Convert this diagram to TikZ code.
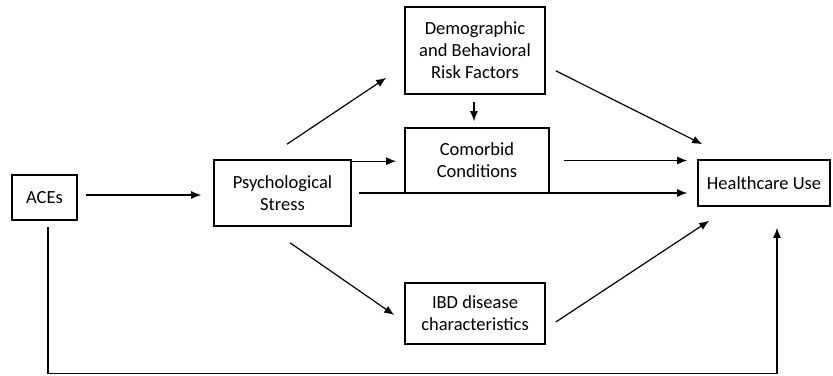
\documentclass[tikz,border=0pt]{standalone}
\usepackage{fontspec}
\setmainfont{Carlito}
\usetikzlibrary{arrows.meta}

\begin{document}
\begin{tikzpicture}[
  x=1pt, y=1pt,
  font=\fontsize{18.5}{22}\selectfont,
  box/.style={draw, line width=1.6pt, align=center, inner sep=2pt},
  arr/.style={-{Latex[length=10pt,width=8pt]}, line width=1.2pt}
]
\useasboundingbox (0,0) rectangle (833,375);
% boxes
\node[box, minimum width=65pt, minimum height=45pt] (aces) at (44.5,177.5) {ACEs};
\node[box, minimum width=137pt, minimum height=66pt] (stress) at (282.5,182) {Psychological\\Stress};
\node[box, minimum width=140pt, minimum height=87pt] (demo) at (475,324.5) {Demographic\\and Behavioral\\Risk Factors};
\node[box, minimum width=144pt, minimum height=65pt] (comorbid) at (477,214.5) {Comorbid\\Conditions};
\node[box, minimum width=132pt, minimum height=46pt] (care) at (764,192) {Healthcare Use};
\node[box, minimum width=140pt, minimum height=61pt] (ibd) at (475,61.5) {IBD disease\\characteristics};
% paths
\draw[arr] ([xshift=8pt,yshift=2.5pt]aces.east) -- ([xshift=-12pt,yshift=2.5pt]aces.east -| stress.west);
\draw[arr] ([xshift=4.5pt,yshift=15pt]stress.north) -- ([xshift=-18pt,yshift=17pt]demo.south west);
\draw[arr] ([xshift=-1pt,yshift=-7pt]demo.south) -- ([xshift=-1pt,yshift=6pt]demo.south |- comorbid.north);
\draw[arr] ([yshift=-2pt]stress.north east) -- ([xshift=-8pt,yshift=-2pt]stress.north east -| comorbid.west);
\draw[arr] ([xshift=7pt]stress.east) -- ([xshift=-10pt]stress.east -| care.west);
\draw[arr] ([xshift=14pt]comorbid.east) -- ([xshift=-10pt]comorbid.east -| care.west);
\draw[arr] ([xshift=10pt,yshift=24pt]demo.south east) -- ([xshift=5pt,yshift=15pt]care.north west);
\draw[arr] ([xshift=10pt,yshift=-8.5pt]ibd.east) -- ([xshift=12pt,yshift=-14pt]care.south west);
\draw[arr] ([xshift=7.5pt,yshift=-16pt]stress.south) -- ([xshift=-10pt,yshift=-1.5pt]ibd.west);
\draw[arr] ([xshift=3.5pt,yshift=-6pt]aces.south) -- ++(0,-147) -| ([xshift=13pt,yshift=-21pt]care.south);
\end{tikzpicture}
\end{document}
